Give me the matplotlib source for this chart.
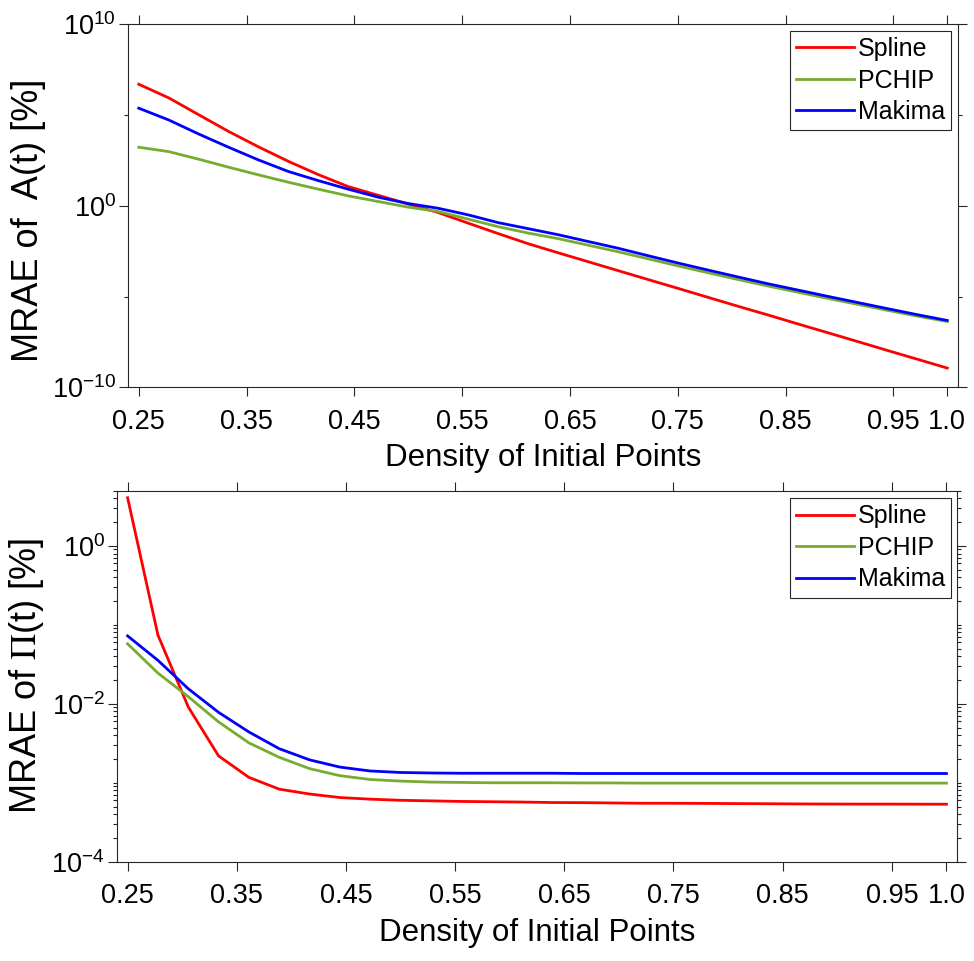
import matplotlib
matplotlib.use('Agg')
import matplotlib.pyplot as plt
import numpy as np
from matplotlib.ticker import FixedLocator, LogLocator, NullFormatter, LogFormatterSciNotation

plt.rcParams['font.family'] = ['Liberation Sans', 'DejaVu Sans']
plt.rcParams['mathtext.fontset'] = 'stix'

# ---------------- data ----------------
density = [0.25, 0.2778, 0.3056, 0.3333, 0.3611, 0.3889, 0.4167, 0.4444, 0.4722, 0.5,
           0.5278, 0.5556, 0.5833, 0.6111, 0.6389, 0.6667, 0.6944, 0.7222, 0.75, 0.7778,
           0.8056, 0.8333, 0.8611, 0.8889, 0.9167, 0.9444, 0.9722, 1.0]

# MRAE of A(t) [%]
A_spline = [5.0e6, 8.9e5, 1.05e5, 1.26e4, 1.78e3, 282, 52.5, 11.5, 3.8, 1.26,
            0.43, 0.112, 0.030, 8.3e-3, 2.63e-3, 8.5e-4, 2.75e-4, 8.9e-5, 2.9e-5, 9.3e-6,
            3.0e-6, 1.0e-6, 3.2e-7, 1.05e-7, 3.4e-8, 1.1e-8, 3.6e-9, 1.17e-9]
A_pchip = [1.7e3, 977, 372, 135, 51, 20, 8.3, 3.55, 1.74, 0.85,
           0.49, 0.186, 0.072, 0.032, 0.0158, 6.9e-3, 3.0e-3, 1.23e-3, 5.0e-4, 2.1e-4,
           8.9e-5, 3.9e-5, 1.78e-5, 8.1e-6, 3.8e-6, 1.78e-6, 8.5e-7, 4.3e-7]
A_makima = [2.4e5, 5.4e4, 9.1e3, 1.7e3, 339, 78, 24.5, 8.3, 3.0, 1.35,
            0.74, 0.32, 0.12, 0.056, 0.026, 0.011, 4.7e-3, 1.82e-3, 7.2e-4, 2.95e-4,
            1.23e-4, 5.2e-5, 2.34e-5, 1.05e-5, 4.8e-6, 2.2e-6, 1.02e-6, 4.9e-7]

# MRAE of Pi(t) [%]
P_spline = [4.07, 0.0741, 9.1e-3, 2.19e-3, 1.17e-3, 8.3e-4, 7.2e-4, 6.5e-4, 6.2e-4, 6.0e-4,
            5.9e-4, 5.8e-4, 5.75e-4, 5.7e-4, 5.62e-4, 5.6e-4, 5.55e-4, 5.5e-4, 5.5e-4, 5.48e-4,
            5.45e-4, 5.43e-4, 5.4e-4, 5.38e-4, 5.37e-4, 5.37e-4, 5.36e-4, 5.35e-4]
P_pchip = [0.0575, 0.0245, 0.0123, 5.9e-3, 3.2e-3, 2.1e-3, 1.51e-3, 1.23e-3, 1.10e-3, 1.05e-3,
           1.02e-3, 1.01e-3, 1.0e-3, 1.0e-3, 1.0e-3, 9.95e-4, 9.95e-4, 9.9e-4, 9.9e-4, 9.9e-4,
           9.9e-4, 9.9e-4, 9.9e-4, 9.9e-4, 9.9e-4, 9.9e-4, 9.9e-4, 9.9e-4]
P_makima = [0.0724, 0.0355, 0.0155, 7.8e-3, 4.4e-3, 2.7e-3, 1.95e-3, 1.58e-3, 1.41e-3, 1.35e-3,
            1.33e-3, 1.32e-3, 1.32e-3, 1.32e-3, 1.32e-3, 1.31e-3, 1.31e-3, 1.31e-3, 1.31e-3, 1.31e-3,
            1.31e-3, 1.31e-3, 1.31e-3, 1.31e-3, 1.31e-3, 1.31e-3, 1.31e-3, 1.31e-3]

series_names = ['Spline', 'PCHIP', 'Makima']
series_colors = ['#ff0000', '#77ac30', '#0000ff']
xtick_vals = [0.25, 0.35, 0.45, 0.55, 0.65, 0.75, 0.85, 0.95, 1.0]
xtick_labels = ['0.25', '0.35', '0.45', '0.55', '0.65', '0.75', '0.85', '0.95', '1.0']

# ---------------- figure ----------------
fig = plt.figure(figsize=(9.74, 9.61), dpi=100)
ax1 = fig.add_axes([0.1314, 0.5968, 0.8522, 0.3779])
ax2 = fig.add_axes([0.1198, 0.1033, 0.8631, 0.3861])

axcol = '#262626'

def style(ax):
    ax.set_yscale('log')
    ax.set_xlim(0.24, 1.01)
    ax.set_xticks(xtick_vals)
    ax.set_xticklabels(xtick_labels)
    ax.yaxis.set_major_formatter(LogFormatterSciNotation())
    ax.yaxis.set_minor_formatter(NullFormatter())
    ax.tick_params(which='both', direction='out', top=True, right=True,
                   color=axcol, width=0.8, labelsize=19.5, labelcolor='black')
    ax.tick_params(which='major', length=6.5)
    ax.tick_params(which='minor', length=3.2)
    ax.tick_params(axis='x', pad=9)
    ax.tick_params(axis='y', pad=2)
    for s in ax.spines.values():
        s.set_color(axcol)
        s.set_linewidth(0.8)
    ax.set_xlabel('Density of Initial Points', fontsize=22.5, labelpad=6)

for ax, data in ((ax1, (A_spline, A_pchip, A_makima)), (ax2, (P_spline, P_pchip, P_makima))):
    for vals, name, col in zip(data, series_names, series_colors):
        ax.plot(density, vals, color=col, lw=2.0, label=name)
    style(ax)

ax1.set_ylim(1e-10, 1e10)
ax1.set_yticks([1e-10, 1e0, 1e10])
ax1.yaxis.set_minor_locator(FixedLocator([1e-5, 1e5]))

ax2.set_ylim(1e-4, 5)
ax2.set_yticks([1e-4, 1e-2, 1e0])
ax2.yaxis.set_minor_locator(LogLocator(base=10, subs=np.arange(1, 10), numticks=50))

ax1.set_ylabel('MRAE of  A(t) [%]', fontsize=26)
ax1.yaxis.set_label_coords(-0.0988, 0.461)
ax2.set_ylabel(r'MRAE of $\Pi$(t) [%]', fontsize=26)
ax2.yaxis.set_label_coords(-0.084, 0.5)

leg_kw = dict(loc='upper right', fontsize=18, frameon=True, fancybox=False,
              edgecolor=axcol, framealpha=1, borderpad=0.25, labelspacing=0.3,
              handlelength=2.3, handletextpad=0.15, borderaxespad=0)
l1 = ax1.legend(bbox_to_anchor=(0.9916, 0.9816), **leg_kw)
l2 = ax2.legend(bbox_to_anchor=(0.9925, 0.980), **leg_kw)
for l in (l1, l2):
    l.get_frame().set_linewidth(0.8)

fig.savefig('out.png', dpi=100)
